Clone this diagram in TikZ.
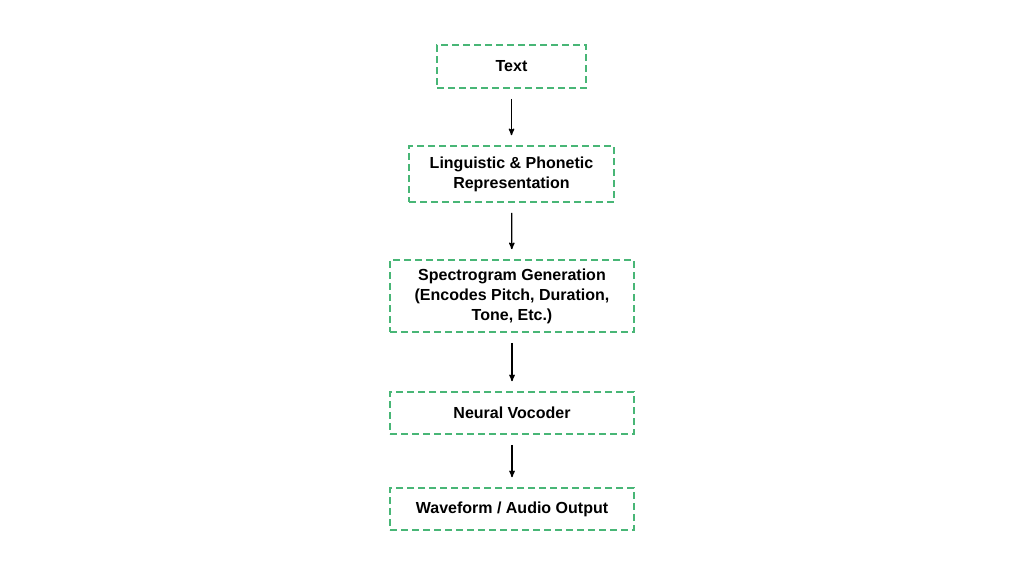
\documentclass[tikz,border=0pt]{standalone}
\usepackage{fontspec}
\setmainfont{Liberation Sans}
\usetikzlibrary{arrows, positioning}
\definecolor{boxgreen}{RGB}{72,182,118}
\tikzset{
  stage/.style={draw=boxgreen, line width=1.6pt, dash pattern=on 7pt off 4pt, align=center,
               font=\fontsize{16}{20}\selectfont\bfseries, inner sep=0pt},
  flow/.style={->, >=stealth', line width=1.3pt, shorten <=10pt, shorten >=10pt}
}
\begin{document}
\begin{tikzpicture}[x=1pt, y=-1pt]
  \useasboundingbox (0,0) rectangle (1024,576);
  \node [stage, minimum width=149pt, minimum height=43pt] (text) at (511.5, 66.5) {Text};
  \node [stage, minimum width=205pt, minimum height=56pt] (ling) at (511.5, 174) {Linguistic \& Phonetic\\Representation};
  \node [stage, minimum width=244pt, minimum height=72pt] (spec) at (512, 296) {Spectrogram Generation\\(Encodes Pitch, Duration,\\Tone, Etc.)};
  \node [stage, minimum width=244pt, minimum height=42pt] (voc) at (512, 413) {Neural Vocoder};
  \node [stage, minimum width=244pt, minimum height=42pt] (wave) at (512, 509) {Waveform / Audio Output};
  \path (text) edge [flow] (ling);
  \path (ling) edge [flow] (spec);
  \path (spec) edge [flow] (voc);
  \path (voc) edge [flow] (wave);
\end{tikzpicture}
\end{document}
